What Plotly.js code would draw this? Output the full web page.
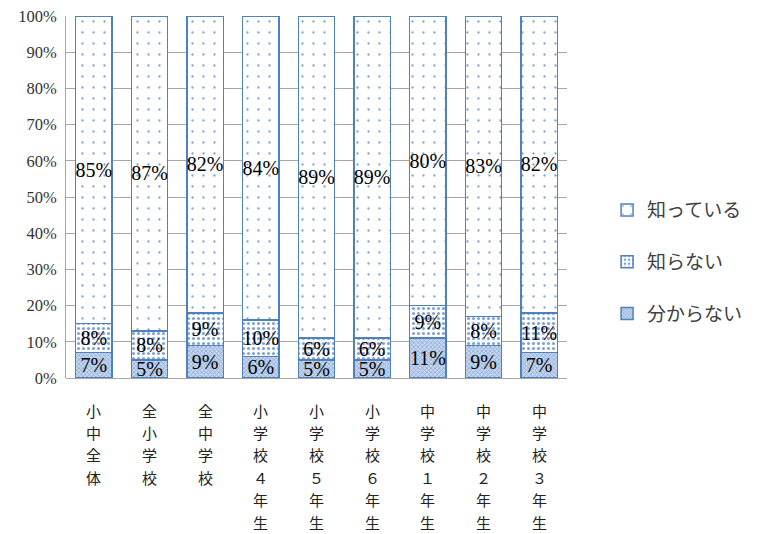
<!DOCTYPE html>
<html><head><meta charset="utf-8">
<script src="https://cdn.plot.ly/plotly-3.0.1.min.js"></script>
<style>html,body{margin:0;padding:0;background:#fff}</style>
</head><body>
<div id="chart" style="width:762px;height:534px"></div>
<script>
const categories = ["小中全体","全小学校","全中学校","小学校４年生","小学校５年生","小学校６年生","中学校１年生","中学校２年生","中学校３年生"];
const wakaranai = [7,5,9,6,5,5,11,9,7];
const shiranai = [8,8,9,10,6,6,9,8,11];
const shitteiru = [85,87,82,84,89,89,80,83,82];
const seriesNames = ["分からない","知らない","知っている"];

const lineCol = "#4f81bd";
const serif = "Liberation Serif";
const jp = "Noto Sans CJK JP";

function mk(vals, name, pattern, rank){
  return {
    type: "bar", x: categories, y: vals, name: name,
    text: vals.map(v => v + "%"), textposition: "inside",
    insidetextanchor: "middle", textangle: 0, constraintext: "none",
    insidetextfont: {family: serif, size: 20, color: "#000"},
    hoverinfo: "none", legendgroup: "g"+rank, legendrank: rank,
    marker: {color: "#fff", line: {color: lineCol, width: 1.5}, pattern: pattern}
  };
}
const data = [
  mk(wakaranai, seriesNames[0], {shape: "x", fgcolor: "#7fa3d6", bgcolor: "#c9d8ee", size: 3, solidity: 0.4, fillmode: "replace"}, 3),
  mk(shiranai, seriesNames[1], {shape: ".", fgcolor: "#7fa3d6", bgcolor: "#fff", size: 5, solidity: 0.3, fillmode: "replace"}, 2),
  mk(shitteiru, seriesNames[2], {shape: ".", fgcolor: "#7fa3d6", bgcolor: "#fff", size: 11, solidity: 0.035, fillmode: "replace"}, 1)
];

// vertical category labels: one character per annotation
const annotations = [];
categories.forEach(function(c){
  c.split("").forEach(function(ch, i){
    annotations.push({xref: "x", yref: "paper", x: c, y: 0, yanchor: "middle", showarrow: false,
      yshift: -32 - i * 22.4, text: ch, font: {family: jp, size: 15, color: "#222"}});
  });
});

const layout = {
  width: 762, height: 534,
  margin: {l: 66, r: 195, t: 16, b: 156},
  barmode: "stack", bargap: 0.35,
  plot_bgcolor: "#fff", paper_bgcolor: "#fff",
  showlegend: true,
  legend: {x: 1.08, y: 0.32, yanchor: "middle", xanchor: "left", traceorder: "grouped", tracegroupgap: 24,
           font: {family: jp, size: 19, color: "#404040"}},
  annotations: annotations,
  xaxis: {showgrid: false, showline: false, ticks: "", showticklabels: false},
  yaxis: {range: [0, 100], dtick: 10, ticksuffix: "%", showgrid: true, gridcolor: "#a6a6a6", gridwidth: 1,
          showline: true, linecolor: "#a6a6a6", linewidth: 1, zeroline: true, zerolinecolor: "#a6a6a6",
          ticks: "", tickfont: {family: serif, size: 16.5, color: "#333"}, ticklabelstandoff: 5}
};
Plotly.newPlot("chart", data, layout, {displayModeBar: false, staticPlot: true});
</script>
</body></html>
